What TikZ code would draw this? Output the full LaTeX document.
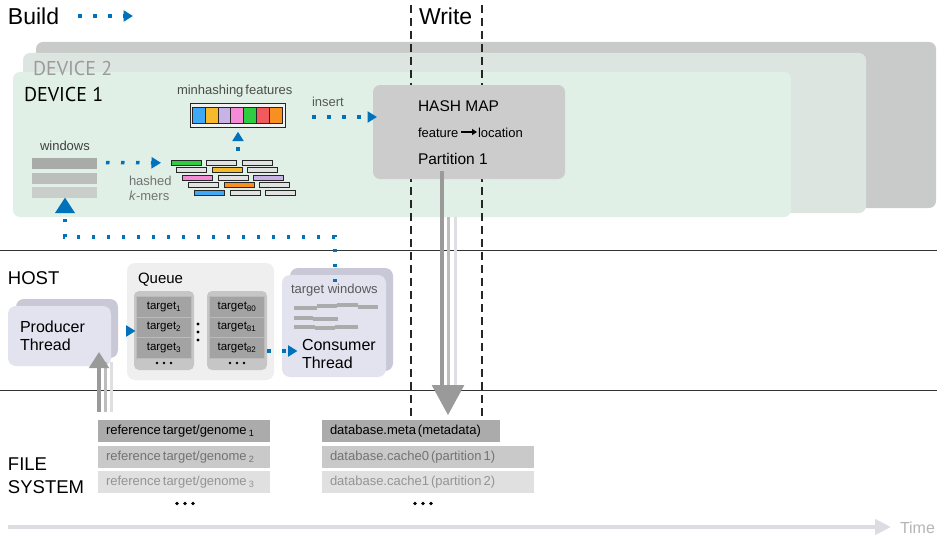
\documentclass[tikz,border=0pt]{standalone}
\usepackage{fontspec}
\setmainfont{Liberation Sans}
\newfontfamily\devicefont{PT Sans}
\usetikzlibrary{arrows.meta,calc}

\definecolor{flowblue}{HTML}{0072BC}
\definecolor{devback}{HTML}{C8CBCA}
\definecolor{devtwo}{HTML}{DCE5E0}
\definecolor{devone}{HTML}{E0F0E7}
\definecolor{devlabel}{HTML}{9B9B9B}
\definecolor{hashgray}{HTML}{CCCCCC}
\definecolor{thrfront}{HTML}{E3E3EF}
\definecolor{thrback}{HTML}{C8C8D7}
\definecolor{queuebg}{HTML}{EFEFEF}
\definecolor{queuecol}{HTML}{C6C6C6}
\definecolor{queuecell}{HTML}{A3A3A3}
\definecolor{queuesep}{HTML}{BBBBBB}
\definecolor{mhbg}{HTML}{F0F3EF}
\definecolor{mhblue}{HTML}{3FA9F5}
\definecolor{mhyellow}{HTML}{F7BA2D}
\definecolor{mhlilac}{HTML}{C9B3E6}
\definecolor{mhpink}{HTML}{F58AD6}
\definecolor{mhgreen}{HTML}{2ECC40}
\definecolor{mhred}{HTML}{F05A5F}
\definecolor{mhorange}{HTML}{F7901E}
\definecolor{kmgray}{HTML}{E2E2E2}
\definecolor{winA}{HTML}{A9ABA8}
\definecolor{winB}{HTML}{BBBEBB}
\definecolor{winC}{HTML}{CACECA}
\definecolor{twline}{HTML}{ABABAB}
\definecolor{dropA}{HTML}{9A9A9A}
\definecolor{dropB}{HTML}{BDBDBD}
\definecolor{dropC}{HTML}{DEDEE3}
\definecolor{fsA}{HTML}{ABABAB}
\definecolor{fsB}{HTML}{C9C9C9}
\definecolor{fsC}{HTML}{E0E0E0}
\definecolor{timegray}{HTML}{DCDCE3}
\definecolor{timetext}{HTML}{B5B5B5}

\newcommand{\fsz}[1]{\fontsize{#1}{#1}\selectfont}
% narrow word gap used in the file and feature labels
\newcommand{\tsp}{\hspace{2pt}}

\tikzset{
  block/.style={inner sep=0pt, outer sep=0pt, anchor=north west},
  txt/.style={inner sep=0pt, outer sep=0pt, anchor=base west},
  bluedots/.style={draw=flowblue, line width=3.5pt, dash pattern=on 3.5pt off 11.5pt,
    -{Triangle[length=9.5pt,width=11pt]}},
  bluehead/.style={draw=flowblue, line width=3.5pt, -{Triangle[length=9.5pt,width=11pt]}},
  writeline/.style={draw=black!85, line width=2pt, dash pattern=on 8pt off 5pt},
  sepline/.style={draw=black!80, line width=1.4pt},
  kmer/.style={block, draw=black!85, line width=0.9pt, minimum width=30pt, minimum height=5pt},
  mhcell/.style={block, draw=black!85, line width=0.9pt, minimum width=12.77pt, minimum height=16pt},
  qcell/.style={block, fill=queuecell, draw=queuesep, line width=0.8pt,
    minimum width=55pt, minimum height=20.5pt, font=\fsz{11.5}},
  fsrow/.style={block, minimum height=22pt, inner xsep=8pt, align=left, font=\fsz{13}},
  thread/.style={block, rounded corners=8pt},
  qdot/.style={fill=black},
}

\begin{document}
\begin{tikzpicture}[x=1pt,y=-1pt]
\useasboundingbox (0,0) rectangle (937,535);
\fill[white] (0,0) rectangle (937,535);

% ---------------- device stack ----------------
\node[block, fill=devback, rounded corners=7pt, minimum width=900pt, minimum height=166pt] (dev3) at (36,42) {};
\node[block, fill=devtwo, rounded corners=7pt, minimum width=843pt, minimum height=160pt] (dev2) at (23,53) {};
\node[block, fill=devone, rounded corners=7pt, minimum width=778pt, minimum height=145pt] (dev1) at (13,72) {};

\node[txt, font=\devicefont\fsz{20}, text=devlabel] (d2lab) at (33,75) {DEVICE 2};
\node[txt, font=\devicefont\fsz{20}] (d1lab) at (24,101) {DEVICE 1};

% ---------------- phase headings ----------------
\node[txt, font=\fsz{23}] (build) at (8,25) {Build};
\node[txt, font=\fsz{23}] (write) at (419,25) {Write};
\coordinate (lgA) at (78,16);
\coordinate (lgB) at (133,16);
\draw[bluedots] (lgA) -- (lgB);

% ---------------- layer separators ----------------
\coordinate (sepAl) at (0,250.5);  \coordinate (sepAr) at (937,250.5);
\coordinate (sepBl) at (0,390.5);  \coordinate (sepBr) at (937,390.5);
\draw[sepline] (sepAl) -- (sepAr);
\draw[sepline] (sepBl) -- (sepBr);

% ---------------- write window ----------------
\coordinate (wl0) at (410.5,5); \coordinate (wl1) at (410.5,417);
\coordinate (wr0) at (482,5);   \coordinate (wr1) at (482,417);
\draw[writeline] (wl0) -- (wl1);
\draw[writeline] (wr0) -- (wr1);

% ---------------- hash map ----------------
\node[block, fill=hashgray, rounded corners=7pt, minimum width=192pt, minimum height=94pt] (hash) at (373,85) {};
\node[txt, font=\fsz{15.5}] (hmtitle) at (418,111) {HASH MAP};
\node[txt, font=\fsz{13}] (hmfeat) at (418,137) {feature};
\node[txt, font=\fsz{13}] (hmloc) at (478,137) {location};
\draw[line width=1.6pt, -{Triangle[length=5pt,width=6pt]}]
  ($(hmfeat.base east)+(3,-5)$) -- ($(hmloc.base west)+(-1,-5)$);
\node[txt, font=\fsz{15.5}] (hmpart) at (418,164) {Partition 1};

% ---------------- windows ----------------
\node[txt, font=\fsz{13}, text=black!75] (winlab) at (40,150) {windows};
\node[block, fill=winA, minimum width=65pt, minimum height=11pt] (win1) at (32,157.5) {};
\node[block, fill=winB, minimum width=65pt, minimum height=11pt] (win2) at (32,172.5) {};
\node[block, fill=winC, minimum width=65pt, minimum height=11pt] (win3) at (32,186.5) {};

% ---------------- hashed k-mers ----------------
\foreach \r/\c/\col in {0/0/mhgreen,0/1/kmgray,0/2/kmgray,
                        1/0/kmgray,1/1/mhyellow,1/2/kmgray,
                        2/0/mhpink,2/1/kmgray,2/2/mhlilac,
                        3/0/kmgray,3/1/mhorange,3/2/kmgray,
                        4/0/mhblue,4/1/kmgray,4/2/kmgray}
  \node[kmer, fill=\col] (k\r\c) at ({171+5.9*\r+35.5*\c},{160.3+7.45*\r}) {};
\node[txt, font=\fsz{13}, text=black!55] (hashed) at (129,185) {hashed};
\node[txt, font=\fsz{13}, text=black!55] (kmers) at (129,200.5) {\textit{k}-mers};

\draw[bluedots] ($(win1.east)+(9,-0.5)$) -- ($(k00.west)+(-10,0)$);

% ---------------- minhashing features ----------------
\node[txt, font=\fsz{13}, text=black!70] (mhlab) at (177,94) {minhashing\tsp features};
\node[block, fill=mhbg, draw=black!85, line width=1pt, minimum width=95pt, minimum height=24.5pt] (mh) at (190.5,103.2) {};
\foreach \col [count=\i from 0] in {mhblue,mhyellow,mhlilac,mhpink,mhgreen,mhred,mhorange}
  \node[mhcell, fill=\col] (mhc\i) at ({192.6+\i*12.77},107.3) {};
\draw[bluedots] ($(mh.south)+(0,23)$) -- ($(mh.south)+(0,4)$);

% ---------------- insert ----------------
\node[txt, font=\fsz{13}, text=black!65] (inslab) at (312,106.7) {insert};
\coordinate (insA) at (312,117);
\draw[bluedots] (insA) -- ($(insA -| hash.west)+(4,0)$);

% ---------------- host ----------------
\node[txt, font=\fsz{18.5}] (hostlab) at (8,284) {HOST};

% producer thread
\node[thread, fill=thrback, minimum width=102pt, minimum height=59pt] (prodback) at (16,299) {};
\node[thread, fill=thrfront, minimum width=103pt, minimum height=60pt] (prod) at (8,306) {};
\node[txt, font=\fsz{16}] (prodlab1) at (20,332) {Producer};
\node[txt, font=\fsz{16}] (prodlab2) at (20,350) {Thread};

% queue
\node[block, fill=queuebg, rounded corners=8pt, minimum width=147pt, minimum height=117pt] (queue) at (127,263) {};
\node[txt, font=\fsz{15}] (qlab) at (138,283) {Queue};
\node[block, fill=queuecol, rounded corners=5pt, minimum width=60pt, minimum height=79pt] (qcolA) at (134,291) {};
\node[block, fill=queuecol, rounded corners=5pt, minimum width=60pt, minimum height=79pt] (qcolB) at (207,291) {};
\node[qcell] (qa1) at (136.5,296.5) {target\textsubscript{1}};
\node[qcell] (qa2) at (136.5,317) {target\textsubscript{2}};
\node[qcell] (qa3) at (136.5,337.5) {target\textsubscript{3}};
\node[qcell] (qb1) at (209.5,296.5) {target\textsubscript{80}};
\node[qcell] (qb2) at (209.5,317) {target\textsubscript{81}};
\node[qcell] (qb3) at (209.5,337.5) {target\textsubscript{82}};
\foreach \k in {-1,0,1} {
  \fill[qdot] ({164+7*\k},363) circle (1.3);
  \fill[qdot] ({237+7*\k},363) circle (1.3);
  \fill[qdot] (198,{332+8*\k}) circle (1.7);
}

% consumer thread
\node[thread, fill=thrback, minimum width=103pt, minimum height=103pt] (consback) at (290,268) {};
\node[thread, fill=thrfront, minimum width=104pt, minimum height=102pt] (cons) at (282,275) {};
\node[txt, font=\fsz{13}, text=black!65] (twlab) at (291,293) {target windows};
\begin{scope}[draw=twline, line width=4pt]
  \draw (294,307.5) -- (317,307.5);
  \draw (317,306) -- (337,306);
  \draw (337,305) -- (358,305);
  \draw (358,306.5) -- (378,306.5);
  \draw (294,317.5) -- (313,317.5);
  \draw (313,319) -- (338,319);
  \draw (294,326.5) -- (315,326.5);
  \draw (315,328) -- (335,328);
  \draw (335,326.5) -- (358,326.5);
\end{scope}
\node[txt, font=\fsz{16}] (conslab1) at (302,350) {Consumer};
\node[txt, font=\fsz{16}] (conslab2) at (302,368) {Thread};

% host flow
\coordinate (pq0) at (126,331);
\draw[bluehead] (pq0) -- ($(queue.west |- pq0)+(8.5,0)$);
\coordinate (qc0) at (qcolB.east |- 0,351);
\draw[bluedots] (qc0) -- ($(cons.west |- qc0)+(15.5,0)$);
\coordinate (cw0) at (335,282);
\coordinate (cwbend) at (65,237);
\draw[bluedots, -{Triangle[length=15.5pt,width=19pt]}]
  (cw0) |- (cwbend) -- ($(win3.south)+(0.5,0)$);

% ---------------- file system ----------------
\node[txt, font=\fsz{18.5}] (fslab1) at (8,470) {FILE};
\node[txt, font=\fsz{18.5}] (fslab2) at (8,493) {SYSTEM};

\node[fsrow, fill=fsA, text=black, text width=156pt] (ref1) at (98,420) {reference\tsp target/genome\,\textsubscript{1}};
\node[fsrow, fill=fsB, text=black!55, text width=156pt] (ref2) at (98,446) {reference\tsp target/genome\,\textsubscript{2}};
\node[fsrow, fill=fsC, text=black!42, text width=156pt] (ref3) at (98,471) {reference\tsp target/genome\,\textsubscript{3}};
\node[fsrow, fill=fsA, text=black, text width=162pt] (db1) at (322,420) {database.meta\tsp(metadata)};
\node[fsrow, fill=fsB, text=black!55, text width=196pt] (db2) at (322,446) {database.cache0\tsp(partition\tsp 1)};
\node[fsrow, fill=fsC, text=black!42, text width=196pt] (db3) at (322,471) {database.cache1\tsp(partition\tsp 2)};
\foreach \k in {-1,0,1} {
  \fill[qdot] ({185+8*\k},503.5) circle (1.8);
  \fill[qdot] ({423+8*\k},503.5) circle (1.8);
}

% ---------------- data movement ----------------
% reference genomes up to the producer
\coordinate (refout) at (99,412);
\coordinate (prodin) at (99,352);
\draw[dropC, line width=3pt] (111,412) -- (111,362);
\draw[dropB, line width=3pt] (105,412) -- (105,362);
\draw[dropA, line width=3.4pt, -{Triangle[length=16pt,width=19.5pt]}] (refout) -- (prodin);

% hash map down to the database files
\coordinate (hmdrop) at (442,171);
\coordinate (dbtip) at (448,415);
\draw[dropC, line width=3pt] (455,217) -- (455,387);
\draw[dropB, line width=3pt, -{Triangle[length=30pt,width=32pt,color=dropA]}] (448,217) -- (dbtip);
\draw[dropA, line width=3.6pt] (hmdrop) -- (442,386);

% ---------------- time axis ----------------
\coordinate (t0) at (8,527);
\coordinate (t1) at (891,527);
\draw[timegray, line width=4pt, -{Triangle[length=16pt,width=15pt]}] (t0) -- (t1);
\node[txt, font=\fsz{16}, text=timetext] (timelab) at (900,533) {Time};
\end{tikzpicture}
\end{document}
